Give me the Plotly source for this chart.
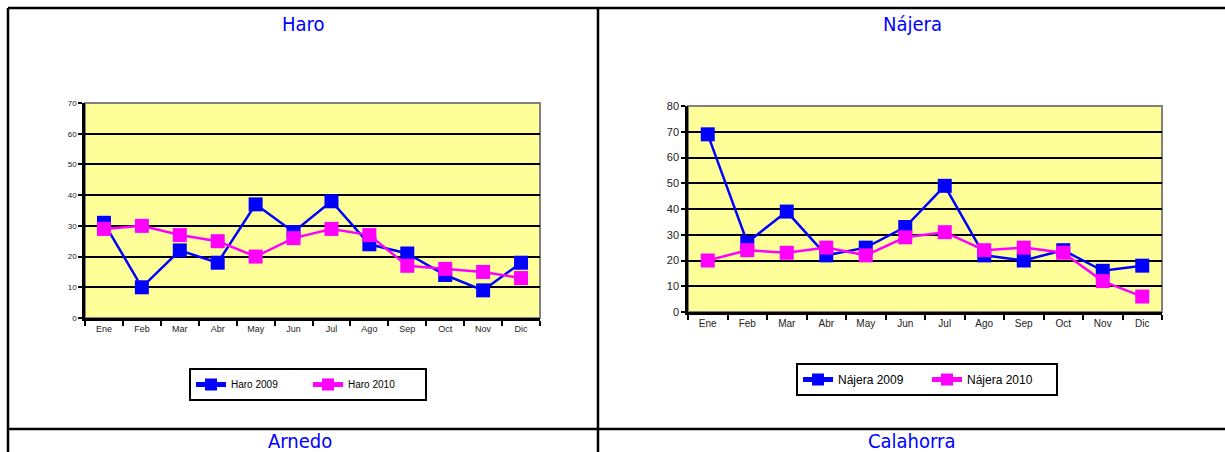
import plotly.graph_objects as go

months = ["Ene", "Feb", "Mar", "Abr", "May", "Jun", "Jul", "Ago", "Sep", "Oct", "Nov", "Dic"]
haro_2009 = [31, 10, 22, 18, 37, 28, 38, 24, 21, 14, 9, 18]
haro_2010 = [29, 30, 27, 25, 20, 26, 29, 27, 17, 16, 15, 13]
najera_2009 = [69, 27, 39, 22, 25, 33, 49, 22, 20, 24, 16, 18]
najera_2010 = [20, 24, 23, 25, 22, 29, 31, 24, 25, 23, 12, 6]
panel_titles = ["Haro", "Nájera", "Arnedo", "Calahorra"]

W, H = 1225, 452
BLUE = "#0000FF"
MAG = "#FF00FF"
FONT = "Liberation Sans, Arial, sans-serif"
TFONT = "Liberation Sans Narrow, DejaVu Sans Condensed, Liberation Sans, sans-serif"

def px(x):
    return x / W

def py(y):
    return 1 - y / H

fig = go.Figure()

fig.add_trace(go.Scatter(x=months, y=haro_2009, name="Haro 2009", mode="lines+markers",
                         line=dict(color=BLUE, width=2.5), marker=dict(symbol="square", size=14, color=BLUE),
                         xaxis="x", yaxis="y", legend="legend"))
fig.add_trace(go.Scatter(x=months, y=haro_2010, name="Haro 2010", mode="lines+markers",
                         line=dict(color=MAG, width=2.5), marker=dict(symbol="square", size=14, color=MAG),
                         xaxis="x", yaxis="y", legend="legend"))
fig.add_trace(go.Scatter(x=months, y=najera_2009, name="Nájera 2009", mode="lines+markers",
                         line=dict(color=BLUE, width=2.5), marker=dict(symbol="square", size=14, color=BLUE),
                         xaxis="x2", yaxis="y2", legend="legend2"))
fig.add_trace(go.Scatter(x=months, y=najera_2010, name="Nájera 2010", mode="lines+markers",
                         line=dict(color=MAG, width=2.5), marker=dict(symbol="square", size=14, color=MAG),
                         xaxis="x2", yaxis="y2", legend="legend2"))

# plot area boxes (page pixel coordinates: left, top, right, bottom)
haro_box = (85, 103, 540, 318)
naj_box = (688, 106, 1162, 312)

def xaxis_cfg(box, fsize):
    return dict(domain=[px(box[0]), px(box[2])], type="category", range=[-0.5, 11.5],
                showgrid=False, zeroline=False, showline=True, linecolor="black", linewidth=2.5,
                ticks="outside", ticklen=5, tickwidth=2, tickcolor="black", tickson="boundaries",
                automargin=False,
                tickfont=dict(family=FONT, size=fsize, color="#222"), fixedrange=True)

def yaxis_cfg(box, top, fsize, anchor):
    return dict(domain=[py(box[3]), py(box[1])], range=[0, top], dtick=10, anchor=anchor,
                showgrid=True, gridcolor="black", gridwidth=2, zeroline=False,
                showline=True, linecolor="black", linewidth=2.5,
                ticks="outside", ticklen=4, tickwidth=2, tickcolor="black", automargin=False,
                tickfont=dict(family=FONT, size=fsize, color="#222"), fixedrange=True)

fig.update_layout(
    width=W, height=H, margin=dict(l=0, r=0, t=0, b=0, pad=0, autoexpand=False),
    paper_bgcolor="white", plot_bgcolor="#FFFF99",
    xaxis=dict(**xaxis_cfg(haro_box, 9), anchor="y"),
    yaxis=yaxis_cfg(haro_box, 70, 8, "x"),
    xaxis2=dict(**xaxis_cfg(naj_box, 10), anchor="y2"),
    yaxis2=yaxis_cfg(naj_box, 80, 11, "x2"),
    legend=dict(x=px(308), y=py(368), xanchor="center", yanchor="top", orientation="h",
                bordercolor="black", borderwidth=2, bgcolor="white",
                font=dict(family=FONT, size=10, color="black"), itemwidth=30,
                entrywidth=72, itemsizing="constant", tracegroupgap=0),
    legend2=dict(x=px(927), y=py(363), xanchor="center", yanchor="top", orientation="h",
                 bordercolor="black", borderwidth=2, bgcolor="white",
                 font=dict(family=FONT, size=12, color="black"), itemwidth=30,
                 entrywidth=84, itemsizing="constant"),
    showlegend=True,
)

shapes = []
# grey plot-area borders
for b in (haro_box, naj_box):
    shapes.append(dict(type="rect", xref="paper", yref="paper", x0=px(b[0]), x1=px(b[2]),
                       y0=py(b[3]), y1=py(b[1]), line=dict(color="#808080", width=2), layer="below"))
# table lines
line_specs = [
    (8, 8, 1230, 8),
    (8, 8, 8, 460),
    (598, 8, 598, 460),
    (8, 429, 1230, 429),
]
for x0, y0, x1, y1 in line_specs:
    shapes.append(dict(type="line", xref="paper", yref="paper", x0=px(x0), y0=py(y0), x1=px(x1), y1=py(y1),
                       line=dict(color="black", width=2.5)))
fig.update_layout(shapes=shapes)

title_pos = [(303, 24), (912, 24), (300, 441), (912, 441)]
for t, (x, y) in zip(panel_titles, title_pos):
    fig.add_annotation(text=t, x=px(x), y=py(y), xref="paper", yref="paper", showarrow=False,
                       xanchor="center", yanchor="middle", font=dict(family=TFONT, size=20, color=BLUE))

post = (
    "var d=document.getElementById('{plot_id}');"
    "d.style.position='fixed';d.style.top='0px';d.style.left='0px';"
    "document.body.style.margin='0';document.body.style.overflow='hidden';"
    "document.documentElement.style.overflow='hidden';"
)
fig.write_html("out.html", config={"displayModeBar": False}, post_script=post)
